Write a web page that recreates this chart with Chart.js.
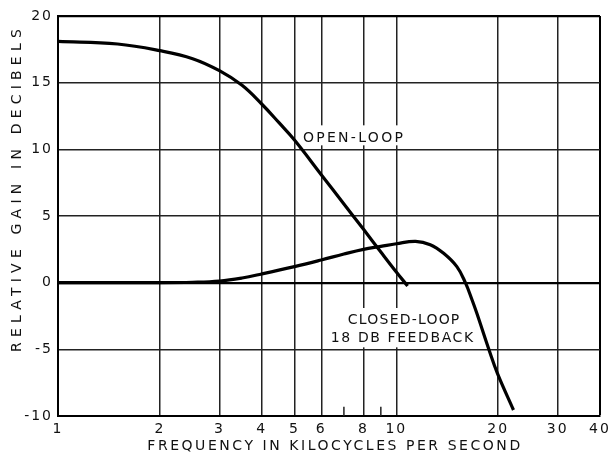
<!DOCTYPE html>
<html>
<head>
<meta charset="utf-8">
<script src="https://cdn.jsdelivr.net/npm/chart.js@4"></script>
<style>
  html, body { margin: 0; padding: 0; background: #fff; }
  #wrap { width: 610px; height: 454px; position: relative; }
</style>
</head>
<body>
<div id="wrap"><canvas id="gainChart"></canvas></div>
<script>
// frequency (kc) ticks and gain values
const xTicks = [1, 2, 3, 4, 5, 6, 8, 10, 20, 30, 40];
const minorTicks = [7, 9];

const openFreq = [1, 1.5, 2, 2.5, 3, 3.5, 4, 4.5, 5, 6, 7, 8, 9, 10, 10.8];
const openGain = [18.1, 17.9, 17.4, 16.8, 15.9, 14.8, 13.4, 12.0, 10.7, 8.1, 5.9, 4.0, 2.3, 0.8, -0.25];

const closedFreq = [1, 2, 2.5, 3, 3.5, 4, 5, 6, 7, 8, 9, 10, 11.4, 12.6, 13.8, 15.1, 16.0, 16.75, 17.3, 18.8, 19.9, 22.2];
const closedGain = [0, 0, 0.03, 0.12, 0.35, 0.65, 1.2, 1.7, 2.15, 2.5, 2.72, 2.92, 3.1, 2.85, 2.2, 1.2, 0.0, -1.3, -2.3, -5.05, -6.8, -9.55];

const FONT = '"DejaVu Sans", sans-serif';

function pts(xs, ys) {
    return xs.map((x, i) => ({ x: x, y: ys[i] }));
}

// breaks in the grid behind the labels, ticks at 7 and 9, labels and titles
const decor = {
    id: 'decor',
    beforeDraw(chart) {
        chart.ctx.letterSpacing = '2px';
    },
    beforeDatasetsDraw(chart) {
        const { ctx, scales: { x, y } } = chart;
        ctx.save();
        ctx.fillStyle = '#fff';
        [6, 8, 10].forEach(v => {
            const px = x.getPixelForValue(v);
            ctx.fillRect(px - 2, y.getPixelForValue(11.8), 4, y.getPixelForValue(10.3) - y.getPixelForValue(11.8));
        });
        [8, 10].forEach(v => {
            const px = x.getPixelForValue(v);
            ctx.fillRect(px - 2, y.getPixelForValue(-1.9), 4, y.getPixelForValue(-4.85) - y.getPixelForValue(-1.9));
        });
        ctx.strokeStyle = '#222';
        ctx.lineWidth = 1.5;
        minorTicks.forEach(v => {
            const px = x.getPixelForValue(v);
            ctx.beginPath();
            ctx.moveTo(px, y.getPixelForValue(-10));
            ctx.lineTo(px, y.getPixelForValue(-9.3));
            ctx.stroke();
        });
        ctx.restore();
    },
    afterDraw(chart) {
        const { ctx, scales: { x, y } } = chart;
        ctx.save();
        ctx.fillStyle = '#111';
        ctx.textAlign = 'center';
        ctx.textBaseline = 'middle';
        ctx.font = '14px ' + FONT;
        ctx.letterSpacing = '2.3px';
        ctx.fillText('OPEN-LOOP', x.getPixelForValue(7.5), y.getPixelForValue(10.85));
        ctx.letterSpacing = '1.2px';
        ctx.fillText('CLOSED-LOOP', x.getPixelForValue(10.55), y.getPixelForValue(-2.85));
        ctx.letterSpacing = '1.6px';
        ctx.fillText('18 DB FEEDBACK', x.getPixelForValue(10.45), y.getPixelForValue(-4.2));

        ctx.letterSpacing = '2.55px';
        ctx.fillText('FREQUENCY IN KILOCYCLES PER SECOND', 335, 446);

        ctx.translate(17, 188);
        ctx.rotate(-Math.PI / 2);
        ctx.letterSpacing = '5.2px';
        ctx.fillText('RELATIVE GAIN IN DECIBELS', 0, 0);
        ctx.restore();
    }
};

const ctx = document.getElementById('gainChart').getContext('2d');
const gainChart = new Chart(ctx, {
    type: 'line',
    data: {
        datasets: [
            {
                label: 'Open-loop',
                data: pts(openFreq, openGain),
                borderColor: '#000',
                borderWidth: 3.2,
                pointRadius: 0,
                tension: 0.4,
                fill: false
            },
            {
                label: 'Closed-loop 18 dB feedback',
                data: pts(closedFreq, closedGain),
                borderColor: '#000',
                borderWidth: 3.2,
                pointRadius: 0,
                tension: 0.4,
                fill: false
            }
        ]
    },
    options: {
        responsive: true,
        maintainAspectRatio: false,
        animation: false,
        layout: { padding: { left: 0, right: 10, top: 16, bottom: 0 } },
        plugins: {
            legend: { display: false },
            tooltip: { enabled: false }
        },
        scales: {
            x: {
                type: 'logarithmic',
                min: 1,
                max: 40,
                afterBuildTicks: s => { s.ticks = xTicks.map(v => ({ value: v })); },
                afterFit: s => { s.height = 38; s.paddingLeft = 0; s.paddingRight = 0; },
                grid: {
                    color: c => c.tick && (c.tick.value === 40) ? '#000' : '#222',
                    lineWidth: c => c.tick && (c.tick.value === 40) ? 2 : 1.5,
                    drawTicks: false
                },
                border: { display: true, color: '#000', width: 2 },
                ticks: {
                    autoSkip: false,
                    maxRotation: 0,
                    padding: 5,
                    color: '#111',
                    font: { family: FONT, size: 14 },
                    callback: v => String(v)
                }
            },
            y: {
                min: -10,
                max: 20,
                afterFit: s => { s.width = 58; s.paddingTop = 0; s.paddingBottom = 0; },
                grid: {
                    color: c => (c.tick && (c.tick.value === 0 || c.tick.value === 20)) ? '#000' : '#222',
                    lineWidth: c => (c.tick && (c.tick.value === 0 || c.tick.value === 20)) ? 2.2 : 1.5,
                    drawTicks: false
                },
                border: { display: true, color: '#000', width: 2 },
                ticks: {
                    stepSize: 5,
                    padding: 5,
                    color: '#111',
                    font: { family: FONT, size: 14 }
                }
            }
        }
    },
    plugins: [decor]
});
</script>
</body>
</html>
